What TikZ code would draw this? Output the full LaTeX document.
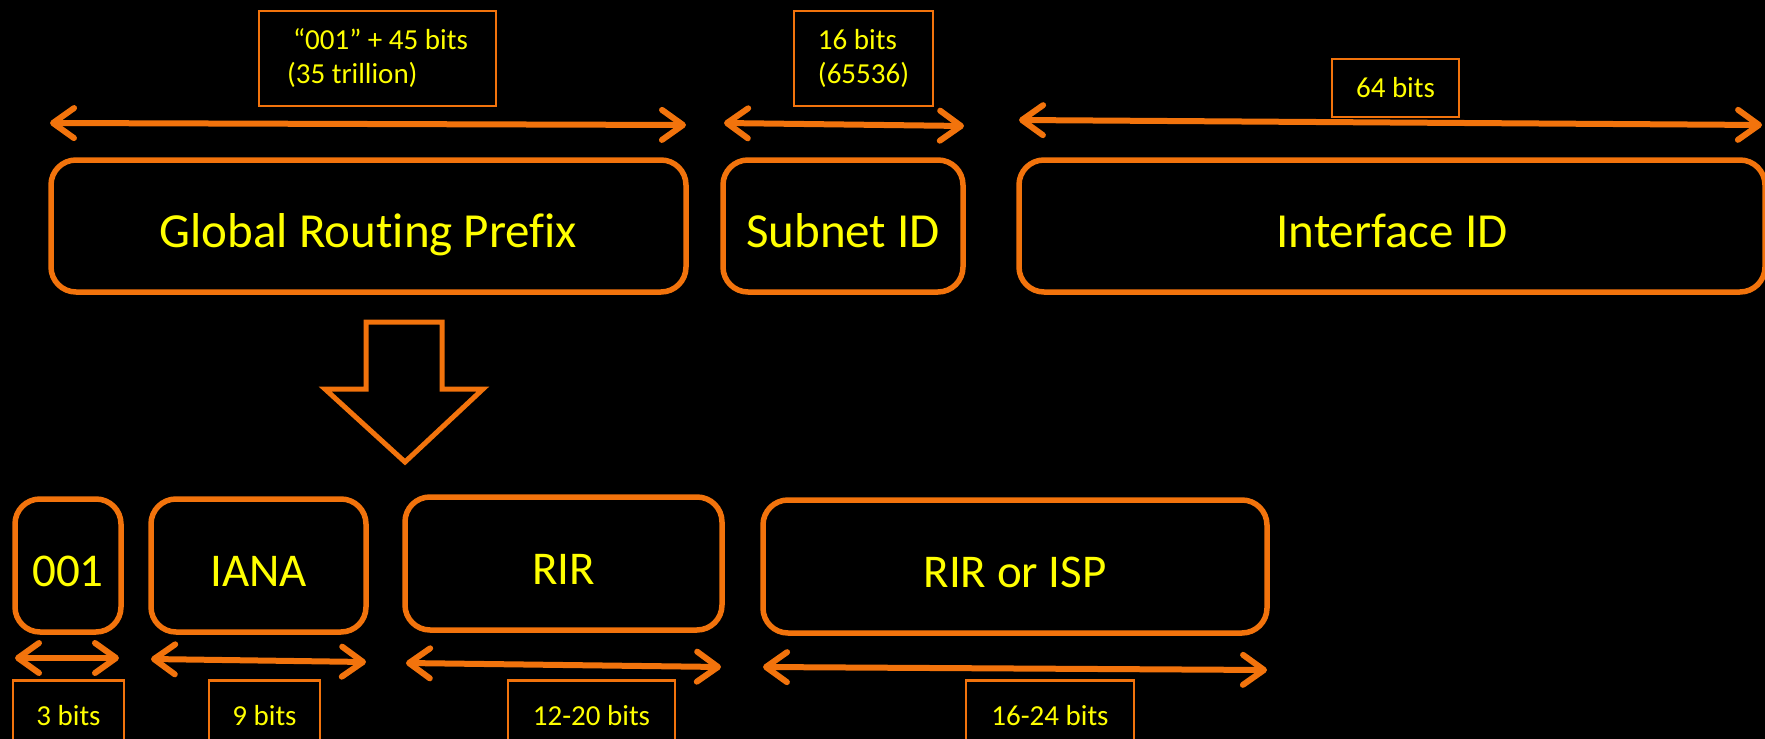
\documentclass[tikz,border=0pt]{standalone}
\usepackage{fontspec}
\setmainfont{Carlito}[Ligatures={NoCommon}]
\usetikzlibrary{arrows.meta}
\definecolor{org}{RGB}{242,115,12}
\definecolor{ylw}{RGB}{255,255,0}
\begin{document}
\begin{tikzpicture}[x=1pt,y=-1pt,
  field/.style={draw=org, line width=5.5pt, rounded corners=25pt, text=ylw,
    font=\fontsize{47}{56}\selectfont, text height=42pt, text depth=0pt, inner sep=0pt},
  topfield/.style={field, font=\fontsize{49}{58}\selectfont, text height=43pt},
  tag/.style={draw=org, line width=2.2pt, text=ylw,
    font=\fontsize{29}{34}\selectfont, inner sep=0pt, align=left},
  span/.style={draw=org, line width=6pt, line cap=round,
    {Straight Barb[length=21pt,width=30pt,round]}-{Straight Barb[length=21pt,width=30pt,round]}},
  bigarrow/.style={draw=org, line width=5pt, line join=miter}
]
\fill[black] (0,0) rectangle (1765,739);
\useasboundingbox (0,0) rectangle (1765,739);

% top fields
\node[topfield, minimum width=635pt, minimum height=132pt] (grp) at (368.5,226) {Global Routing Prefix};
\node[topfield, minimum width=240pt, minimum height=132pt] (sub) at (843,226) {Subnet ID};
\node[topfield, minimum width=746pt, minimum height=132pt] (iid) at (1392,226) {Interface ID};

% top labels
\node[tag, minimum width=237pt, minimum height=95pt] (t1) at (377.5,58.5) {\hspace*{6pt}“001” + 45 bits\\(35 trillion)};
\node[tag, minimum width=139pt, minimum height=95pt] (t2) at (863.5,58.5) {16 bits\\(65536)};
\node[tag, minimum width=127pt, minimum height=58pt] (t3) at (1395.5,88) {64 bits};

% top spans
\coordinate (g1) at (50,123);   \coordinate (g2) at (686,125);
\coordinate (s1) at (724,123);  \coordinate (s2) at (964,126);
\coordinate (i1) at (1019,120); \coordinate (i2) at (1762,125);
\draw[span] (g1) -- (g2);
\draw[span] (s1) -- (s2);
\draw[span] (i1) -- (i2);

% big down arrow
\draw[bigarrow] (366,322) -- (442,322) -- (442,389) -- (483,389) -- (405,462)
  -- (325,389) -- (366,389) -- cycle;

% bottom fields
\node[field, minimum width=106pt, minimum height=133pt] (f001) at (68,565.5) {001};
\node[field, minimum width=215pt, minimum height=133pt] (iana) at (258.5,565.5) {IANA};
\node[field, minimum width=317pt, minimum height=133pt] (rir) at (563.5,563.5) {RIR};
\node[field, minimum width=504pt, minimum height=133pt] (isp) at (1015,566.5) {RIR or ISP};

% bottom spans
\coordinate (a1) at (15,658);  \coordinate (a2) at (119,658);
\coordinate (b1) at (151,659); \coordinate (b2) at (366,662);
\coordinate (c1) at (406,663); \coordinate (c2) at (721,667);
\coordinate (d1) at (763,667); \coordinate (d2) at (1267,670);
\draw[span] (a1) -- (a2);
\draw[span] (b1) -- (b2);
\draw[span] (c1) -- (c2);
\draw[span] (d1) -- (d2);

% bottom labels
\node[tag, minimum width=111pt, minimum height=71pt] (l1) at (68.5,716) {3 bits};
\node[tag, minimum width=111pt, minimum height=71pt] (l2) at (264.5,716) {9 bits};
\node[tag, minimum width=167pt, minimum height=71pt] (l3) at (591.5,716) {12-20 bits};
\node[tag, minimum width=168pt, minimum height=71pt] (l4) at (1050,716) {16-24 bits};
\end{tikzpicture}
\end{document}
